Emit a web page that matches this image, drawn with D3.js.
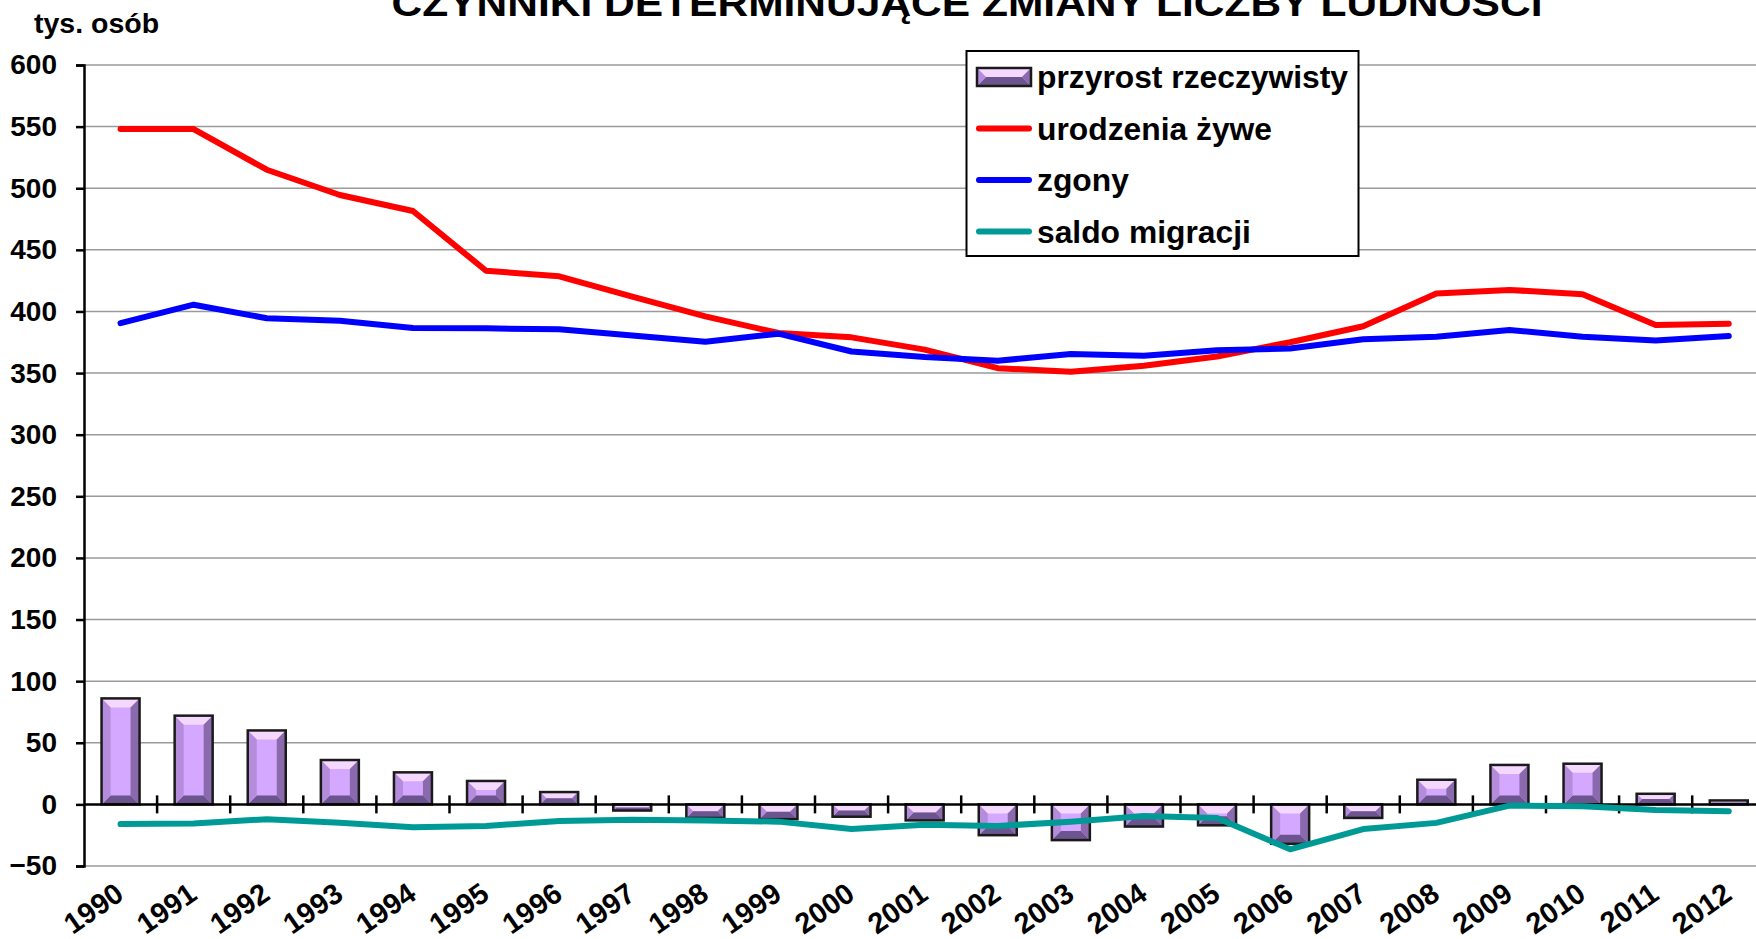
<!DOCTYPE html>
<html>
<head>
<meta charset="utf-8">
<title>Czynniki determinujące zmiany liczby ludności</title>
<script src="https://d3js.org/d3.v7.min.js"></script>
<style>
body { margin: 0; background: #fff; }
text { font-family: Arial, "Liberation Sans", sans-serif; font-weight: bold; fill: #000; }
</style>
</head>
<body>
<script>

// data (tys. osób)
var years = ["1990","1991","1992","1993","1994","1995","1996","1997","1998","1999","2000","2001",
	"2002","2003","2004","2005","2006","2007","2008","2009","2010","2011","2012"];
var przyrost = [86, 72, 60, 36, 26, 19, 10, -5, -11, -12, -10, -13, -25, -29, -18, -17, -32, -11, 20, 32, 33, 8.6, 3.2];
var urodzenia = [548, 548, 515, 494.5, 481.5, 433, 428.5, 412, 396, 382.5, 379, 369, 354, 351, 356, 363.5, 375, 388, 414.5, 417.5, 414, 389, 390];
var zgony = [390.5, 405.5, 394.5, 392.5, 386.5, 386.3, 385.5, 380.5, 375.5, 382, 367.5, 363, 360, 365.5, 364, 368.5, 370, 377.5, 379.5, 385, 379.5, 376.5, 380];
var migracja = [-16, -15.5, -12, -15, -18.5, -17.5, -13.5, -12.5, -13, -14, -20, -16.5, -17.5, -14, -9.5, -11, -36.5, -20, -15, -1, -1.5, -4.5, -5.5];
var yTicks = [-50, 0, 50, 100, 150, 200, 250, 300, 350, 400, 450, 500, 550, 600];

var seriesNames = ["przyrost rzeczywisty", "urodzenia żywe", "zgony", "saldo migracji"];
var lineColors = {"urodzenia żywe": "#ff0000", "zgony": "#0000ff", "saldo migracji": "#009a96"};

var W = 1756, H = 939;
var left = 84, catW = 73.1;

var svg = d3.select("body").append("svg")
	.attr("width", W)
	.attr("height", H);

svg.append("rect").attr("width", W).attr("height", H).attr("fill", "#fff");

var x = d3.scaleBand()
	.domain(years)
	.range([left, left + catW * years.length]);

var y = d3.scaleLinear()
	.domain([-50, 600])
	.range([866, 65]);

// title (cut off at the top like the original)
svg.append("text")
	.attr("x", 967)
	.attr("y", 16)
	.attr("text-anchor", "middle")
	.attr("font-size", 36)
	.attr("textLength", 1151)
	.attr("lengthAdjust", "spacingAndGlyphs")
	.text("CZYNNIKI DETERMINUJĄCE ZMIANY LICZBY LUDNOŚCI");

svg.append("text")
	.attr("x", 34)
	.attr("y", 33)
	.attr("font-size", 28.5)
	.text("tys. osób");

// gridlines
svg.append("g")
	.selectAll("line")
	.data(yTicks.filter(function(d){ return d != 0; }))
	.enter()
	.append("line")
	.attr("x1", left)
	.attr("x2", W)
	.attr("y1", function(d){ return y(d); })
	.attr("y2", function(d){ return y(d); })
	.attr("stroke", "#9a9a9a")
	.attr("stroke-width", 1.5);

// y axis
var yAxis = d3.axisLeft(y)
	.tickValues(yTicks)
	.tickSize(8)
	.tickPadding(19)
	.tickFormat(d3.format("d"));

var gy = svg.append("g")
	.attr("transform", "translate(" + left + ",0)")
	.call(yAxis);
gy.select(".domain").attr("stroke", "#000").attr("stroke-width", 2.5);
gy.selectAll(".tick line").attr("stroke", "#000").attr("stroke-width", 2.5);
gy.selectAll(".tick text")
	.attr("font-size", 28)
	.attr("font-family", "Arial, 'Liberation Sans', sans-serif")
	.attr("font-weight", "bold")
	.attr("fill", "#000");

// bars with bevel
var barW = 38;
var bevelColors = { face: "#d5a8ff", top: "#f5d8ff", left: "#b58cdb", right: "#8a69ad", bottom: "#6c548e" };

function bevelBar(g, x0, y0, w, h) {
	var b = Math.min(9, w / 2, h / 2);
	var x1 = x0 + w, y1 = y0 + h;
	g.append("rect").attr("x", x0).attr("y", y0).attr("width", w).attr("height", h).attr("fill", bevelColors.face);
	g.append("polygon").attr("fill", bevelColors.top)
		.attr("points", [[x0, y0], [x1, y0], [x1 - b, y0 + b], [x0 + b, y0 + b]].join(" "));
	g.append("polygon").attr("fill", bevelColors.bottom)
		.attr("points", [[x0, y1], [x1, y1], [x1 - b, y1 - b], [x0 + b, y1 - b]].join(" "));
	g.append("polygon").attr("fill", bevelColors.left)
		.attr("points", [[x0, y0], [x0 + b, y0 + b], [x0 + b, y1 - b], [x0, y1]].join(" "));
	g.append("polygon").attr("fill", bevelColors.right)
		.attr("points", [[x1, y0], [x1 - b, y0 + b], [x1 - b, y1 - b], [x1, y1]].join(" "));
	g.append("rect").attr("x", x0).attr("y", y0).attr("width", w).attr("height", h)
		.attr("fill", "none").attr("stroke", "#1a1a1a").attr("stroke-width", 2.5);
}

var bars = svg.append("g");
przyrost.forEach(function(v, i) {
	var cx = x(years[i]) + x.bandwidth() / 2;
	var top = y(Math.max(v, 0)), bot = y(Math.min(v, 0));
	bevelBar(bars.append("g"), cx - barW / 2, top, barW, bot - top);
});

// x axis line at 0 with crossing ticks
var gx = svg.append("g");
gx.append("line")
	.attr("x1", left).attr("x2", W)
	.attr("y1", y(0)).attr("y2", y(0))
	.attr("stroke", "#000").attr("stroke-width", 2.5);
gx.selectAll(".xt")
	.data(years.slice(1))
	.enter()
	.append("line")
	.attr("class", "xt")
	.attr("x1", function(d){ return x(d); })
	.attr("x2", function(d){ return x(d); })
	.attr("y1", y(0) - 9)
	.attr("y2", y(0) + 9)
	.attr("stroke", "#000").attr("stroke-width", 2.5);

// x labels
svg.append("g")
	.selectAll("text")
	.data(years)
	.enter()
	.append("text")
	.attr("font-size", 29)
	.attr("text-anchor", "end")
	.attr("transform", function(d){
		return "translate(" + (x(d) + x.bandwidth() / 2 + 5) + ",898) rotate(-35)";
	})
	.text(function(d){ return d; });

// lines
var line = d3.line()
	.x(function(d, i){ return x(years[i]) + x.bandwidth() / 2; })
	.y(function(d){ return y(d); });

var lineData = [
	{ name: "urodzenia żywe", values: urodzenia },
	{ name: "zgony", values: zgony },
	{ name: "saldo migracji", values: migracja }
];

svg.append("g")
	.selectAll("path")
	.data(lineData)
	.enter()
	.append("path")
	.attr("d", function(d){ return line(d.values); })
	.attr("fill", "none")
	.attr("stroke", function(d){ return lineColors[d.name]; })
	.attr("stroke-width", 6)
	.attr("stroke-linecap", "round")
	.attr("stroke-linejoin", "round");

// legend
var lg = svg.append("g");
lg.append("rect")
	.attr("x", 966.5).attr("y", 51)
	.attr("width", 392).attr("height", 205)
	.attr("fill", "#fff")
	.attr("stroke", "#000")
	.attr("stroke-width", 2);

var rowY = [77, 128.5, 180, 231.5];
seriesNames.forEach(function(name, i) {
	if (i == 0) {
		bevelBar(lg.append("g"), 977, rowY[i] - 9, 54, 18);
	} else {
		lg.append("line")
			.attr("x1", 979).attr("x2", 1029)
			.attr("y1", rowY[i]).attr("y2", rowY[i])
			.attr("stroke", lineColors[name])
			.attr("stroke-width", 6)
			.attr("stroke-linecap", "round");
	}
	lg.append("text")
		.attr("x", 1037)
		.attr("y", rowY[i])
		.attr("dy", "0.35em")
		.attr("font-size", 31.8)
		.text(name);
});

</script>
</body>
</html>
